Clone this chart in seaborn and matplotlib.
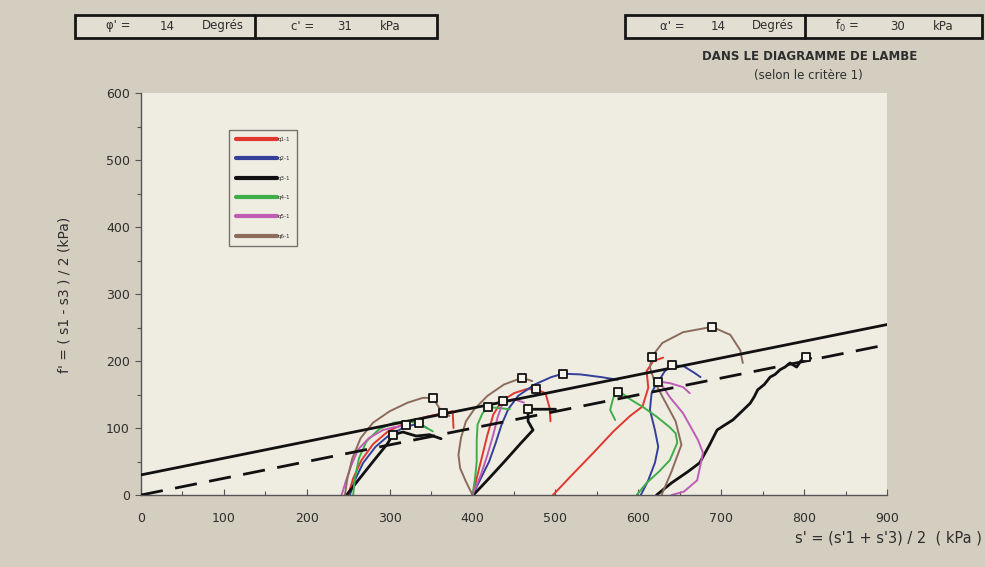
import numpy as np
import pandas as pd
import matplotlib
matplotlib.use("Agg")
import matplotlib.pyplot as plt
from matplotlib.lines import Line2D
from matplotlib.patches import Rectangle
import seaborn as sns

# Shear strength parameters
phi_deg = 14
c_kpa = 31
alpha_deg = 14
f0_kpa = 30

series_names = ["q1-1", "q2-1", "q3-1", "q4-1", "q5-1", "q6-1"]
series_colors = ["#E0372E", "#33409A", "#111111", "#3FAE49", "#BE5CB6", "#8C6B5C"]
series_widths = [1.4, 1.4, 2.0, 1.4, 1.4, 1.4]

# Stress paths (s', t) of each specimen, one list per confining level
q1_s = [[250, 256, 266, 280, 298, 320, 345, 364, 376, 377],
        [400, 405, 411, 418, 425, 435, 450, 465, 476, 488, 493, 494],
        [497, 520, 545, 570, 590, 605, 612, 610, 618, 630]]
q1_t = [[0, 25, 52, 76, 95, 108, 117, 122, 125, 100],
        [0, 25, 55, 90, 120, 140, 152, 158, 158, 152, 130, 110],
        [0, 30, 62, 95, 118, 132, 160, 185, 200, 205]]

q2_s = [[252, 258, 268, 283, 300, 318, 335, 345],
        [400, 410, 420, 428, 435, 443, 455, 475, 495, 509, 530, 555, 575],
        [603, 612, 620, 624, 620, 614, 616, 620, 624, 632, 641, 655, 668, 675]]
q2_t = [[0, 22, 48, 72, 90, 101, 107, 100],
        [0, 25, 50, 78, 105, 128, 148, 165, 176, 181, 180, 176, 172],
        [0, 22, 48, 72, 97, 127, 152, 162, 169, 185, 194, 192, 182, 176]]

q3_s = [[248, 262, 280, 297, 304, 316, 332, 348, 362],
        [401, 420, 440, 458, 473, 467, 467, 485, 500],
        [622, 640, 660, 674, 686, 695, 705, 714, 725, 735, 740, 744, 752,
         759, 765, 771, 777, 783, 791, 796, 802, 808]]
q3_t = [[0, 22, 50, 76, 90, 94, 88, 90, 84],
        [0, 25, 52, 77, 97, 110, 128, 128, 128],
        [0, 18, 35, 48, 75, 97, 105, 112, 125, 137, 147, 157, 165,
         176, 180, 187, 191, 197, 191, 200, 206, 204]]

q4_s = [[256, 258, 263, 272, 287, 305, 322, 335, 352],
        [400, 403, 405, 405, 406, 412, 419, 430, 445],
        [598, 610, 625, 638, 647, 645, 638, 622, 606, 590, 578, 570, 566, 572]]
q4_t = [[0, 25, 55, 80, 98, 108, 110, 107, 95],
        [0, 25, 50, 80, 105, 122, 131, 130, 128],
        [0, 18, 35, 52, 78, 92, 101, 117, 131, 143, 154, 146, 127, 112]]

q5_s = [[242, 247, 254, 262, 275, 292, 305, 320],
        [400, 410, 418, 425, 430, 437, 450, 462],
        [640, 655, 671, 678, 672, 654, 638, 630, 626, 638, 654, 662]]
q5_t = [[0, 20, 45, 68, 85, 97, 101, 104],
        [0, 30, 60, 90, 115, 140, 143, 138],
        [0, 5, 22, 63, 82, 122, 146, 161, 169, 167, 161, 152]]

q6_s = [[246, 249, 255, 265, 280, 300, 322, 340, 352, 364, 372],
        [400, 392, 385, 383, 386, 392, 402, 418, 438, 460, 472],
        [628, 640, 652, 645, 632, 620, 614, 616, 629, 654, 689, 711, 723, 726]]
q6_t = [[0, 25, 55, 85, 108, 125, 138, 145, 145, 122, 118],
        [0, 20, 40, 60, 85, 110, 128, 148, 165, 175, 170],
        [0, 35, 75, 110, 140, 168, 190, 206, 227, 243, 251, 239, 216, 197]]

# Failure points (criterion 1)
fail_s = [304, 320, 335, 352, 364, 419, 437, 460, 476, 467, 509,
          575, 616, 641, 624, 689, 802]
fail_t = [90, 104, 107, 145, 122, 131, 140, 175, 158, 128, 181,
          154, 206, 194, 169, 251, 206]

x_ticks = [0, 100, 200, 300, 400, 500, 600, 700, 800, 900]
y_ticks = [0, 100, 200, 300, 400, 500, 600]

all_s = [q1_s, q2_s, q3_s, q4_s, q5_s, q6_s]
all_t = [q1_t, q2_t, q3_t, q4_t, q5_t, q6_t]

rows = []
for name, s_groups, t_groups in zip(series_names, all_s, all_t):
    for g, (sg, tg) in enumerate(zip(s_groups, t_groups)):
        for order, (s, t) in enumerate(zip(sg, tg)):
            rows.append({"series": name, "level": g, "order": order, "s": s, "t": t})
paths = pd.DataFrame(rows)

BG = "#D3CEBF"
PLOT_BG = "#EFECE2"
TXT = "#2E2E2E"
FONT = ["DejaVu Sans"]

sns.set_theme(style="white")
plt.rcParams["font.family"] = FONT

W, H = 985, 567
fig = plt.figure(figsize=(W / 100, H / 100), dpi=100, facecolor=BG)
ax = fig.add_axes([141 / W, 1 - 495 / H, (887 - 141) / W, (495 - 93) / H])
ax.set_facecolor(PLOT_BG)

# Envelopes: with cohesion (solid) and without (dashed)
s_env = np.array([0, 900])
tan_a = np.tan(np.radians(alpha_deg))
env = pd.DataFrame({"s": s_env, "t_c": f0_kpa + tan_a * s_env, "t_0": tan_a * s_env})
sns.lineplot(data=env, x="s", y="t_c", ax=ax, color="#111111", lw=2.0, zorder=3)
sns.lineplot(data=env, x="s", y="t_0", ax=ax, color="#111111", lw=2.0,
             zorder=3).lines[-1].set_dashes([8, 4.5])

for name, col, lw in zip(series_names, series_colors, series_widths):
    sub = paths[paths["series"] == name]
    sns.lineplot(data=sub, x="s", y="t", units="level", estimator=None, sort=False,
                 color=col, lw=lw, ax=ax, zorder=2)

sns.scatterplot(x=fail_s, y=fail_t, marker="s", s=38, color="#F6F4EC",
                edgecolor="#111111", linewidth=1.3, ax=ax, zorder=5)

ax.set_xlim(0, 900)
ax.set_ylim(0, 600)
ax.set_xticks(x_ticks)
ax.set_yticks(y_ticks)
ax.set_xticks(np.arange(50, 900, 100), minor=True)
ax.set_yticks(np.arange(50, 600, 100), minor=True)
ax.set_xlabel("")
ax.set_ylabel("")
for side in ["top", "right"]:
    ax.spines[side].set_visible(False)
for side in ["left", "bottom"]:
    ax.spines[side].set_color("#555555")
    ax.spines[side].set_linewidth(1.0)
ax.tick_params(axis="y", which="major", direction="out", length=4, width=0.8,
               colors="#555555", labelcolor=TXT, labelsize=9, pad=4, left=True)
ax.tick_params(axis="y", which="minor", direction="out", length=3, width=0.8,
               colors="#555555", left=True)
ax.tick_params(axis="x", which="major", direction="in", length=4, width=0.8,
               colors="#555555", labelcolor=TXT, labelsize=9, pad=12, bottom=True)
ax.tick_params(axis="x", which="minor", direction="in", length=3, width=0.8,
               colors="#555555", bottom=True)

handles = [Line2D([0], [0], color=c, lw=3) for c in series_colors]
leg = ax.legend(handles, series_names, loc="upper left",
                bbox_to_anchor=((229 - 141) / 746, (495 - 130) / 402),
                fontsize=4, handlelength=7.5, handletextpad=0.1, labelspacing=2.6,
                borderpad=1.2, frameon=True, fancybox=False, facecolor=PLOT_BG,
                edgecolor="#555555", borderaxespad=0)
leg.get_frame().set_linewidth(1.0)
for t in leg.get_texts():
    t.set_color(TXT)

def fx(x):
    return x / W

def fy(y):
    return 1 - y / H

fig.text(fx(64), fy(295), "f' = ( s1 - s3 ) / 2 (kPa)", rotation=90, ha="center",
         va="center", fontsize=10, color=TXT)
fig.text(fx(982), fy(538), "s' = (s'1 + s'3) / 2  ( kPa )", ha="right", va="center",
         fontsize=10.5, color=TXT)

# Parameter boxes
def box(x0, x1, xm, y0, y1):
    fig.add_artist(Rectangle((fx(x0), fy(y1)), fx(x1) - fx(x0), fy(y0) - fy(y1),
                             transform=fig.transFigure, facecolor="#E2DED2",
                             edgecolor="#151515", lw=2.0))
    fig.add_artist(Line2D([fx(xm), fx(xm)], [fy(y0), fy(y1)], transform=fig.transFigure,
                          color="#151515", lw=2.0))

box(75, 437, 255, 15, 38)
box(625, 982, 805, 15, 38)

hdr = [(118, "φ' ="), (167, str(phi_deg)), (223, "Degrés"),
       (303, "c' ="), (345, str(c_kpa)), (390, "kPa"),
       (672, "α' ="), (718, str(alpha_deg)), (773, "Degrés"),
       (847, "f$_0$ ="), (898, str(f0_kpa)), (943, "kPa")]
for x, s in hdr:
    fig.text(fx(x), fy(26), s, ha="center", va="center", fontsize=8.5, color=TXT)

fig.text(fx(810), fy(57), "DANS LE DIAGRAMME DE LAMBE", ha="center", va="center",
         fontsize=8.5, fontweight="bold", color=TXT)
fig.text(fx(808), fy(76), "(selon le critère 1)", ha="center", va="center",
         fontsize=8.5, color=TXT)

fig.savefig("out.png", dpi=100, facecolor=BG)
